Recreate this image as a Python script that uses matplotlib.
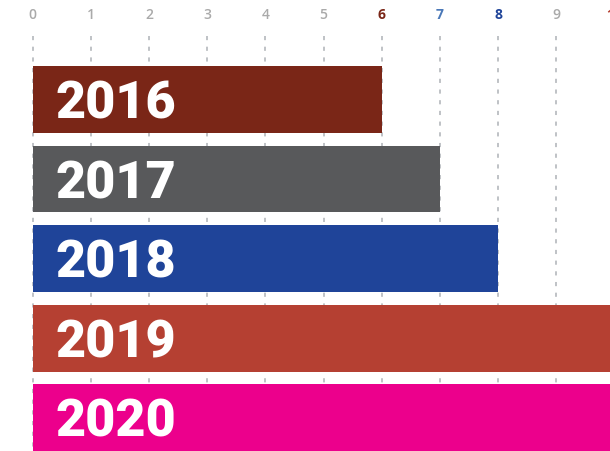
import numpy as np
import matplotlib
matplotlib.use('Agg')
import matplotlib.pyplot as plt
import matplotlib.transforms as mtransforms

# data
years = ['2016', '2017', '2018', '2019', '2020']
values = [6, 7, 8, 10, 11]
bar_colors = ['#7a2617', '#58595b', '#1f4499', '#b54032', '#ec008c']
tick_values = [0, 1, 2, 3, 4, 5, 6, 7, 8, 9, 10]
tick_colors = ['#aaaaaa', '#aaaaaa', '#aaaaaa', '#aaaaaa', '#aaaaaa', '#aaaaaa',
               '#7a2617', '#4a78b8', '#1f4499', '#aaaaaa', '#b54032']

W, H = 610, 452
plt.rcParams['lines.scale_dashes'] = False
fig = plt.figure(figsize=(W/100, H/100), dpi=100)
ax = fig.add_axes([0, 0, 1, 1])
ax.axis('off')

px_per_unit = 58.2      # horizontal scale
x0_px = 32.5
step_px = 79.6          # bar spacing
top_px = 100.4          # centre of first bar

ax.set_xlim(-x0_px/px_per_unit, (W - x0_px)/px_per_unit)
y_top = -top_px/step_px
y_bot = (H - top_px)/step_px
ax.set_ylim(y_bot, y_top)

ypos = np.arange(len(years))

# dashed grid behind the bars
grid_start = y_top + 37/step_px
ax.vlines(tick_values[:-1], grid_start, y_bot, colors='#aeb2b6', linewidth=1.1,
          linestyles=[(0, (3.0, 4.7))], zorder=0)

ax.barh(ypos, values, height=66.7/step_px, color=bar_colors, zorder=2)

for y, yr in zip(ypos, years):
    ax.text(0.40, y + 18.1/step_px, yr, color='white', fontsize=37.5,
            fontweight='black', family='Roboto', va='baseline', ha='left', zorder=3)

# tick labels across the top
trans = mtransforms.blended_transform_factory(ax.transData, ax.transAxes)
for t, c in zip(tick_values, tick_colors):
    w = 'semibold' if c == '#aaaaaa' else 'bold'
    ax.text(t, 1 - 15/H, str(t), transform=trans, color=c, fontsize=10,
            family='Open Sans', fontweight=w, ha='center', va='center', clip_on=False)

fig.savefig('out.png', dpi=100)
